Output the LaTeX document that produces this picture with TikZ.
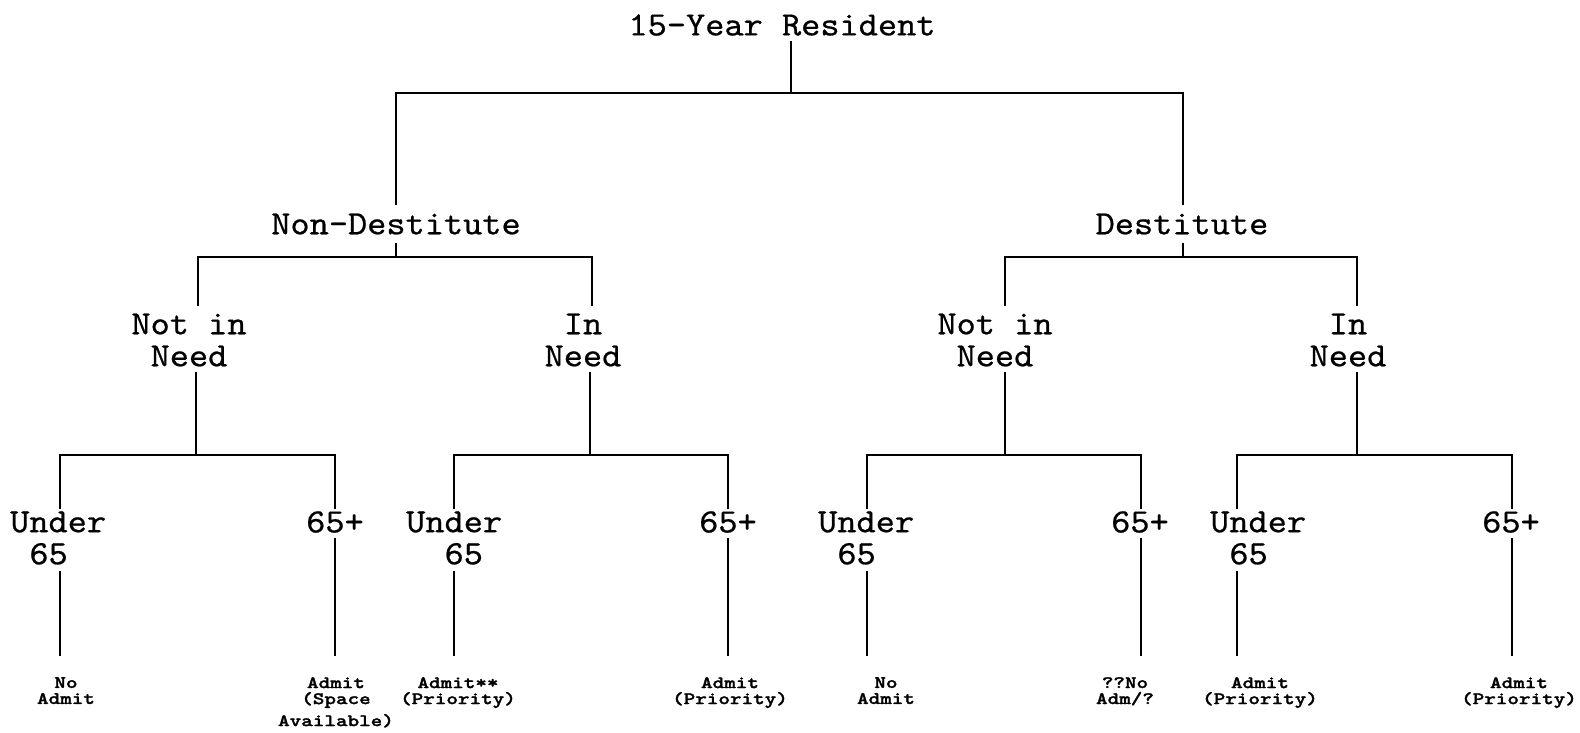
\documentclass[tikz,border=0pt]{standalone}
\usepackage{fontspec}
\newfontfamily\courbig{lmmono10-regular.otf}[FakeBold=0.6, FakeStretch=1.075]
\newfontfamily\courlbl{lmmonolt10-bold.otf}[FakeStretch=1.26, FakeBold=1.5]
\begin{document}
\begin{tikzpicture}[x=1pt,y=-1pt,
  big/.style={font=\courbig\fontsize{34}{32}\selectfont, inner sep=0pt, align=center, text=black},
  bigl/.style={big, align=left, anchor=west},
  small/.style={font=\courlbl\fontsize{17.5}{16}\selectfont, inner sep=0pt, align=center, anchor=north, text=black},
  ln/.style={line width=1.9pt, line cap=rect}]
\fill[white] (0,0) rectangle (1580,732);
\useasboundingbox (0,0) rectangle (1580,732);

% nodes
\node[big] (root) at (782,25) {15-Year Resident};
\node[big] (nd) at (396,224) {Non-Destitute};
\node[big] (d) at (1182,224) {Destitute};
\node[big] (ndn) at (189,340) {Not in\\Need};
\node[big] (ndi) at (583,340) {In\\Need};
\node[big] (dn) at (995,340) {Not in\\Need};
\node[big] (di) at (1348,340) {In\\Need};
\node[bigl] (u1) at (10,538) {Under\\\hphantom{0}65};
\node[big] (o1) at (335,522) {65+};
\node[bigl] (u2) at (406,538) {Under\\\hphantom{00}65};
\node[big] (o2) at (728,522) {65+};
\node[bigl] (u3) at (818,538) {Under\\\hphantom{0}65};
\node[big] (o3) at (1140,522) {65+};
\node[bigl] (u4) at (1210,538) {Under\\\hphantom{0}65};
\node[big] (o4) at (1511,522) {65+};

\node[small] (r1) at (66,677) {No\\Admit};
\node[small] (r2) at (336,677) {Admit\\(Space\\[6pt]Available)};
\node[small] (r3) at (458,677) {Admit**\\(Priority)};
\node[small] (r4) at (730,677) {Admit\\(Priority)};
\node[small] (r5) at (886,677) {No\\Admit};
\node[small] (r6) at (1125,677) {??No\\Adm/?};
\node[small] (r7) at (1260,677) {Admit\\(Priority)};
\node[small] (r8) at (1519,677) {Admit\\(Priority)};

% line end points
\coordinate (B0) at (0,93);
\coordinate (B1) at (0,257);
\coordinate (B2) at (0,455);
\coordinate (root-b) at (791,42);
\coordinate (nd-t) at (396,204); \coordinate (nd-b) at (396,244);
\coordinate (d-t) at (1183,204); \coordinate (d-b) at (1183,244);
\coordinate (ndn-t) at (198,305); \coordinate (ndn-b) at (196,373);
\coordinate (ndi-t) at (592,305); \coordinate (ndi-b) at (590,373);
\coordinate (dn-t) at (1005,305); \coordinate (dn-b) at (1005,373);
\coordinate (di-t) at (1357,305); \coordinate (di-b) at (1357,373);
\coordinate (u1-t) at (60,508); \coordinate (u1-b) at (60,572);
\coordinate (o1-t) at (335,508); \coordinate (o1-b) at (335,539);
\coordinate (u2-t) at (454,508); \coordinate (u2-b) at (454,572);
\coordinate (o2-t) at (728,508); \coordinate (o2-b) at (728,539);
\coordinate (u3-t) at (867,508); \coordinate (u3-b) at (867,572);
\coordinate (o3-t) at (1141,508); \coordinate (o3-b) at (1141,539);
\coordinate (u4-t) at (1237,508); \coordinate (u4-b) at (1237,572);
\coordinate (o4-t) at (1512,508); \coordinate (o4-b) at (1512,539);
\coordinate (r1-t) at (60,655); \coordinate (r2-t) at (335,655);
\coordinate (r3-t) at (454,655); \coordinate (r4-t) at (728,655);
\coordinate (r5-t) at (867,655); \coordinate (r6-t) at (1141,655);
\coordinate (r7-t) at (1237,655); \coordinate (r8-t) at (1512,655);

% connectors
\draw[ln] (root-b) -- (root-b |- B0) -| (nd-t);
\draw[ln] (root-b |- B0) -| (d-t);

\draw[ln] (nd-b) -- (nd-b |- B1) -| (ndn-t);
\draw[ln] (nd-b |- B1) -| (ndi-t);
\draw[ln] (d-b) -- (d-b |- B1) -| (dn-t);
\draw[ln] (d-b |- B1) -| (di-t);

\draw[ln] (ndn-b) -- (ndn-b |- B2) -| (u1-t);
\draw[ln] (ndn-b |- B2) -| (o1-t);
\draw[ln] (ndi-b) -- (ndi-b |- B2) -| (u2-t);
\draw[ln] (ndi-b |- B2) -| (o2-t);
\draw[ln] (dn-b) -- (dn-b |- B2) -| (u3-t);
\draw[ln] (dn-b |- B2) -| (o3-t);
\draw[ln] (di-b) -- (di-b |- B2) -| (u4-t);
\draw[ln] (di-b |- B2) -| (o4-t);

\draw[ln] (u1-b) -- (r1-t);
\draw[ln] (o1-b) -- (r2-t);
\draw[ln] (u2-b) -- (r3-t);
\draw[ln] (o2-b) -- (r4-t);
\draw[ln] (u3-b) -- (r5-t);
\draw[ln] (o3-b) -- (r6-t);
\draw[ln] (u4-b) -- (r7-t);
\draw[ln] (o4-b) -- (r8-t);
\end{tikzpicture}
\end{document}
